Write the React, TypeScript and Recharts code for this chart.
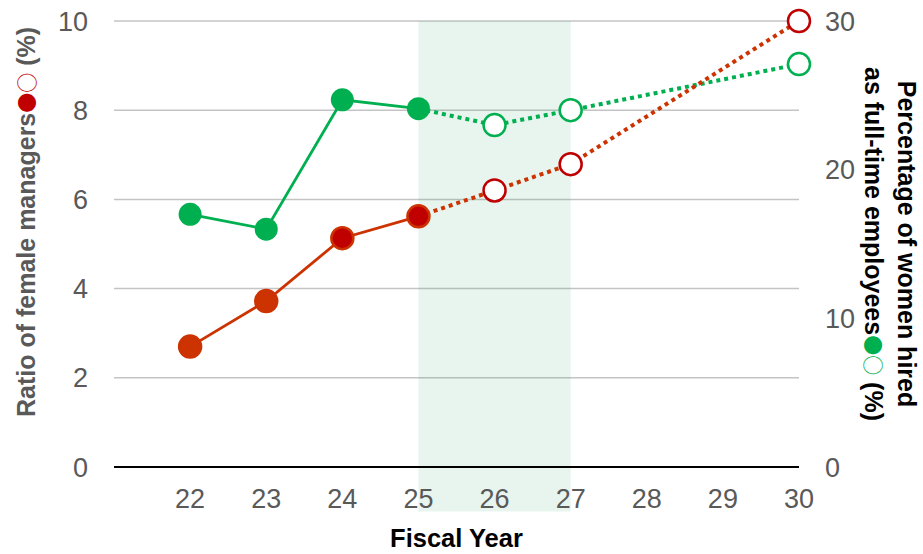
import React from "react";
import {
  ComposedChart,
  Line,
  XAxis,
  YAxis,
  CartesianGrid,
  ReferenceArea,
  Label,
} from "recharts";

// Fiscal years
const yearTicks = [22, 23, 24, 25, 26, 27, 28, 29, 30];

// Ratio of female managers (%), left axis
const managersActual = [
  { year: 22, value: 2.7 },
  { year: 23, value: 3.72 },
  { year: 24, value: 5.13 },
  { year: 25, value: 5.62 },
];
const managersTarget = [
  { year: 25, value: 5.62 },
  { year: 26, value: 6.2 },
  { year: 27, value: 6.79 },
  { year: 30, value: 10 },
];

// Percentage of women hired as full-time employees (%), right axis
const hiredActual = [
  { year: 22, value: 17.0 },
  { year: 23, value: 16.0 },
  { year: 24, value: 24.7 },
  { year: 25, value: 24.1 },
];
const hiredTarget = [
  { year: 25, value: 24.1 },
  { year: 26, value: 23.0 },
  { year: 27, value: 24.0 },
  { year: 30, value: 27.1 },
];

const leftTicks = [0, 2, 4, 6, 8, 10];
const rightTicks = [0, 10, 20, 30];

const RED_LINE = "#cc3300";
const RED_DARK = "#c00000";
const GREEN = "#00b050";
const GRAY_TEXT = "#595959";
const FONT = "'Liberation Sans', Arial, sans-serif";
const SYMBOL_FONT = "'Noto Sans CJK JP', 'DejaVu Sans', sans-serif";

const tickStyle = { fill: GRAY_TEXT, fontSize: 27, fontFamily: FONT };

const managersDot = (props: any) => {
  const { cx, cy, index } = props;
  const dark = index >= 2;
  return (
    <circle
      key={`md-${index}`}
      cx={cx}
      cy={cy}
      r={11}
      fill={dark ? RED_DARK : RED_LINE}
      stroke={RED_LINE}
      strokeWidth={2.5}
    />
  );
};

const hollowDot = (color: string) => (props: any) => {
  const { cx, cy, index } = props;
  if (index === 0) return <g key={`h-${color}-${index}`} />;
  return (
    <circle
      key={`h-${color}-${index}`}
      cx={cx}
      cy={cy}
      r={11}
      fill="#fff"
      stroke={color}
      strokeWidth={2.5}
    />
  );
};

const hiredDot = (props: any) => {
  const { cx, cy, index } = props;
  return <circle key={`hd-${index}`} cx={cx} cy={cy} r={11.5} fill={GREEN} />;
};

export default function App() {
  return (
    <div style={{ position: "absolute", left: 0, top: 0, background: "#fff" }}>
      <ComposedChart
        width={923}
        height={554}
        margin={{ top: 21, right: 0, bottom: 0, left: 0 }}
      >
        <CartesianGrid
          yAxisId="left"
          vertical={false}
          stroke="#c4c4c4"
          strokeWidth={1.5}
        />
        <XAxis
          dataKey="year"
          type="number"
          domain={[21, 30]}
          ticks={yearTicks}
          allowDuplicatedCategory={false}
          height={87}
          tickLine={false}
          tickSize={0}
          tickMargin={22}
          axisLine={{ stroke: "#000", strokeWidth: 2 }}
          tick={tickStyle}
        >
          <Label
            content={({ viewBox }: any) => (
              <text
                x={viewBox.x + viewBox.width / 2}
                y={547}
                textAnchor="middle"
                fontFamily={FONT}
                fontWeight="bold"
                fontSize={25.5}
                fill="#000"
              >
                Fiscal Year
              </text>
            )}
          />
        </XAxis>
        <YAxis
          yAxisId="left"
          domain={[0, 10]}
          ticks={leftTicks}
          width={114}
          axisLine={false}
          tickLine={false}
          tickSize={0}
          tickMargin={26}
          tick={tickStyle}
        >
          <Label
            content={() => (
              <text
                transform="translate(35, 417) rotate(-90)"
                textAnchor="start"
                fontFamily={FONT}
                fontWeight="bold"
                fontSize={25}
                fill={GRAY_TEXT}
              >
                Ratio of female managers
                <tspan fill={RED_DARK} fontFamily={SYMBOL_FONT} fontWeight="normal" fontSize={20}>
                  ●○
                </tspan>{" "}
                (%)
              </text>
            )}
          />
        </YAxis>
        <YAxis
          yAxisId="right"
          orientation="right"
          domain={[0, 30]}
          ticks={rightTicks}
          width={124}
          axisLine={false}
          tickLine={false}
          tickSize={0}
          tickMargin={26}
          tick={tickStyle}
        >
          <Label
            content={({ viewBox }: any) => {
              const cy = viewBox.y + viewBox.height / 2;
              return (
                <text
                  transform={`translate(898, ${cy}) rotate(90)`}
                  textAnchor="middle"
                  fontFamily={FONT}
                  fontWeight="bold"
                  fontSize={25}
                  fill="#000"
                >
                  <tspan x={0} dy={0}>
                    Percentage of women hired
                  </tspan>
                  <tspan x={0} dy={33}>
                    as full-time employees
                    <tspan fill={GREEN} fontFamily={SYMBOL_FONT} fontWeight="normal" fontSize={20}>
                      ●○
                    </tspan>{" "}
                    (%)
                  </tspan>
                </text>
              );
            }}
          />
        </YAxis>

        <ReferenceArea
          yAxisId="left"
          x1={25}
          x2={27}
          y1={-1}
          y2={10}
          ifOverflow="visible"
          fill="#199b5f"
          fillOpacity={0.1}
          stroke="none"
        />

        <Line
          yAxisId="right"
          data={hiredTarget}
          dataKey="value"
          stroke={GREEN}
          strokeWidth={4}
          strokeDasharray="4 4"
          dot={hollowDot(GREEN)}
          activeDot={false}
          isAnimationActive={false}
        />
        <Line
          yAxisId="left"
          data={managersTarget}
          dataKey="value"
          stroke={RED_LINE}
          strokeWidth={4}
          strokeDasharray="4 4"
          dot={hollowDot(RED_DARK)}
          activeDot={false}
          isAnimationActive={false}
        />
        <Line
          yAxisId="right"
          data={hiredActual}
          dataKey="value"
          stroke={GREEN}
          strokeWidth={2.8}
          dot={hiredDot}
          activeDot={false}
          isAnimationActive={false}
        />
        <Line
          yAxisId="left"
          data={managersActual}
          dataKey="value"
          stroke={RED_LINE}
          strokeWidth={2.8}
          dot={managersDot}
          activeDot={false}
          isAnimationActive={false}
        />
      </ComposedChart>
    </div>
  );
}
